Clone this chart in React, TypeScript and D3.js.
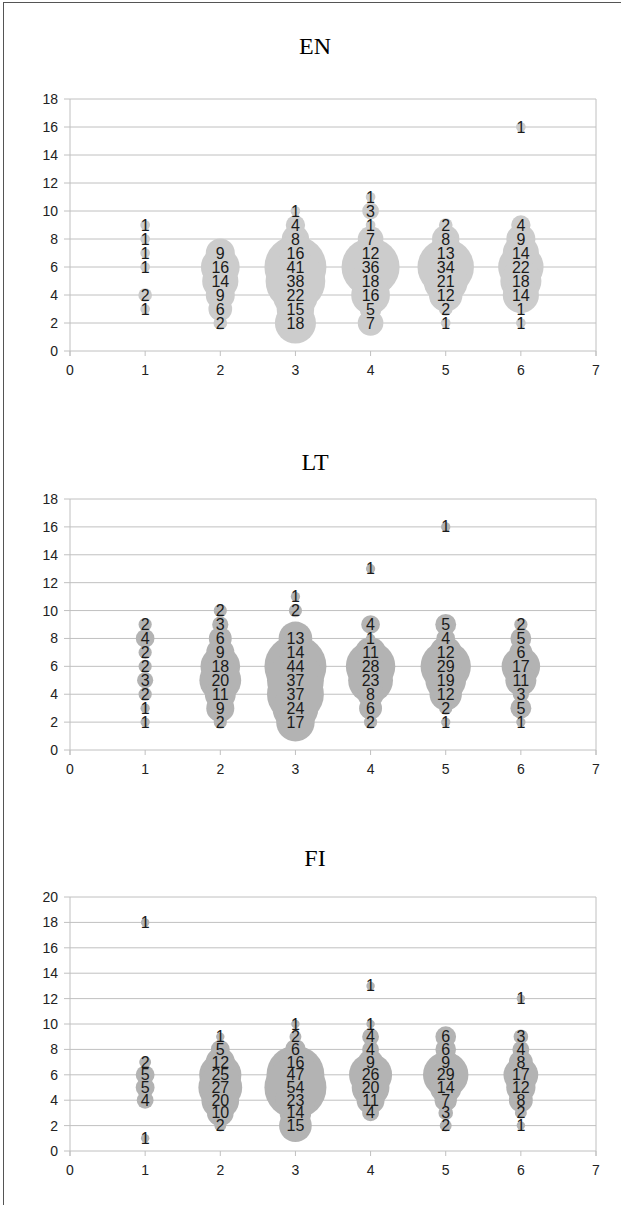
import React from 'react';
import * as d3 from 'd3';

// x categories (same for all three panels)
const xs = [1, 2, 3, 4, 5, 6];

// EN: y positions per column and the bubble counts at each
const enY = [
  [9, 8, 7, 6, 4, 3],
  [7, 6, 5, 4, 3, 2],
  [10, 9, 8, 7, 6, 5, 4, 3, 2],
  [11, 10, 9, 8, 7, 6, 5, 4, 3, 2],
  [9, 8, 7, 6, 5, 4, 3, 2],
  [16, 9, 8, 7, 6, 5, 4, 3, 2]
];
const enN = [
  [1, 1, 1, 1, 2, 1],
  [9, 16, 14, 9, 6, 2],
  [1, 4, 8, 16, 41, 38, 22, 15, 18],
  [1, 3, 1, 7, 12, 36, 18, 16, 5, 7],
  [2, 8, 13, 34, 21, 12, 2, 1],
  [1, 4, 9, 14, 22, 18, 14, 1, 1]
];

// LT
const ltY = [
  [9, 8, 7, 6, 5, 4, 3, 2],
  [10, 9, 8, 7, 6, 5, 4, 3, 2],
  [11, 10, 8, 7, 6, 5, 4, 3, 2],
  [13, 9, 8, 7, 6, 5, 4, 3, 2],
  [16, 9, 8, 7, 6, 5, 4, 3, 2],
  [9, 8, 7, 6, 5, 4, 3, 2]
];
const ltN = [
  [2, 4, 2, 2, 3, 2, 1, 1],
  [2, 3, 6, 9, 18, 20, 11, 9, 2],
  [1, 2, 13, 14, 44, 37, 37, 24, 17],
  [1, 4, 1, 11, 28, 23, 8, 6, 2],
  [1, 5, 4, 12, 29, 19, 12, 2, 1],
  [2, 5, 6, 17, 11, 3, 5, 1]
];

// FI
const fiY = [
  [18, 7, 6, 5, 4, 1],
  [9, 8, 7, 6, 5, 4, 3, 2],
  [10, 9, 8, 7, 6, 5, 4, 3, 2],
  [13, 10, 9, 8, 7, 6, 5, 4, 3],
  [9, 8, 7, 6, 5, 4, 3, 2],
  [12, 9, 8, 7, 6, 5, 4, 3, 2]
];
const fiN = [
  [1, 2, 5, 5, 4, 1],
  [1, 5, 12, 25, 27, 20, 10, 2],
  [1, 2, 6, 16, 47, 54, 23, 14, 15],
  [1, 1, 4, 4, 9, 26, 20, 11, 4],
  [6, 6, 9, 29, 14, 7, 3, 2],
  [1, 3, 4, 8, 17, 12, 8, 2, 1]
];

const xTicks = [0, 1, 2, 3, 4, 5, 6, 7];

const panels = [
  { title: 'EN', ys: enY, ns: enN, yMax: 18, top: 99, bottom: 351, titleY: 46, fill: '#cccccc' },
  { title: 'LT', ys: ltY, ns: ltN, yMax: 18, top: 499, bottom: 750, titleY: 462, fill: '#b3b3b3' },
  { title: 'FI', ys: fiY, ns: fiN, yMax: 20, top: 897, bottom: 1151, titleY: 858, fill: '#b3b3b3' }
];

const W = 621;
const H = 1205;
const left = 70;
const right = 596;
const font = '"Liberation Sans", Arial, sans-serif';

const x = d3.scaleLinear().domain([0, 7]).range([left, right]);

function Panel({ p }: { p: any }) {
  const y = d3.scaleLinear().domain([0, p.yMax]).range([p.bottom, p.top]);
  const max = d3.max(p.ns.flat() as number[]) as number;
  const r = d3.scaleSqrt().domain([0, max]).range([0, 31]);
  const yTicks = d3.range(0, p.yMax + 1, 2);

  const pts: { x: number; y: number; n: number }[] = [];
  xs.forEach((xv, i) => {
    p.ys[i].forEach((yv: number, j: number) => pts.push({ x: xv, y: yv, n: p.ns[i][j] }));
  });

  return (
    <g>
      <text x={315} y={p.titleY} textAnchor="middle" dominantBaseline="central"
        fontFamily='"Liberation Serif", "Times New Roman", serif' fontSize={24} fill="#000">
        {p.title}
      </text>
      {yTicks.map(t => (
        <g key={t}>
          <line x1={left - 6} x2={right} y1={y(t)} y2={y(t)} stroke="#c0c0c0" />
          <text x={left - 12} y={y(t)} textAnchor="end" dominantBaseline="central"
            fontFamily={font} fontSize={14} fill="#222">{t}</text>
        </g>
      ))}
      <line x1={left} x2={left} y1={p.top} y2={p.bottom + 5} stroke="#c0c0c0" />
      <line x1={right} x2={right} y1={p.top} y2={p.bottom + 5} stroke="#c0c0c0" />
      {xTicks.map(t => (
        <g key={t}>
          <line x1={x(t)} x2={x(t)} y1={p.bottom} y2={p.bottom + 5} stroke="#c0c0c0" />
          <text x={x(t)} y={p.bottom + 19} textAnchor="middle" dominantBaseline="central"
            fontFamily={font} fontSize={14} fill="#222">{t}</text>
        </g>
      ))}
      {pts.map((d, i) => (
        <circle key={i} cx={x(d.x)} cy={y(d.y)} r={r(d.n)} fill={p.fill} />
      ))}
      {pts.map((d, i) => (
        <text key={i} x={x(d.x)} y={y(d.y)} textAnchor="middle" dominantBaseline="central"
          fontFamily={font} fontSize={16} fill="#1a1a1a">{d.n}</text>
      ))}
    </g>
  );
}

export default function App() {
  return (
    <svg width={W} height={H} style={{ position: 'absolute', left: 0, top: 0, background: '#fff' }}>
      <rect width={W} height={H} fill="#fff" />
      <line x1={3} x2={W} y1={2.5} y2={2.5} stroke="#555" />
      <line x1={3.5} x2={3.5} y1={2} y2={H} stroke="#555" />
      {panels.map(p => <Panel key={p.title} p={p} />)}
    </svg>
  );
}
